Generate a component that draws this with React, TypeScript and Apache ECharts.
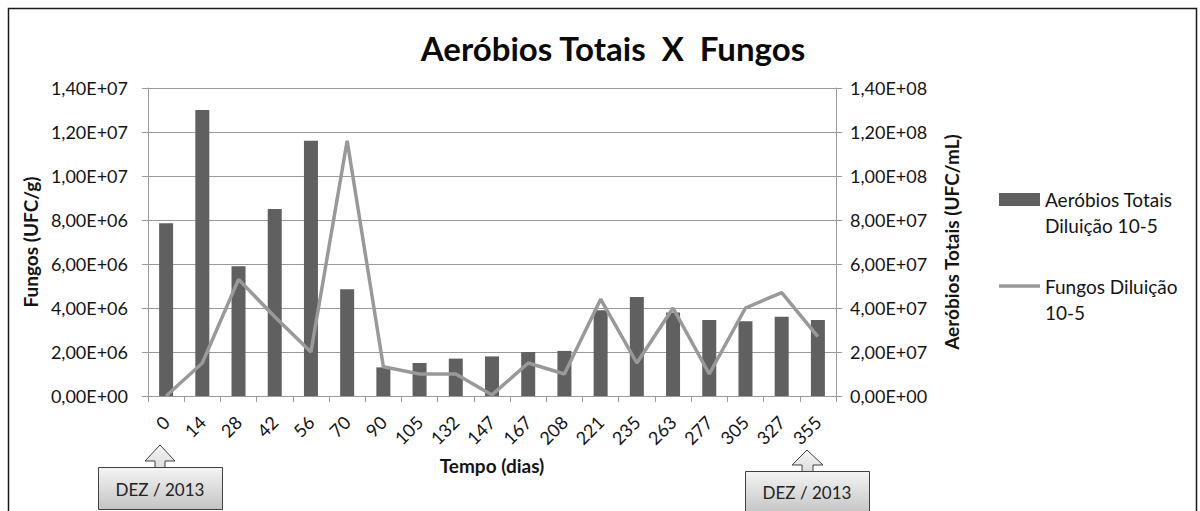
import React, { useEffect, useRef } from "react";
import * as echarts from "echarts";

const days = ["0", "14", "28", "42", "56", "70", "90", "105", "132", "147", "167", "208", "221", "235", "263", "277", "305", "327", "355"];
const aerobios = [7.85e7, 1.3e8, 5.9e7, 8.5e7, 1.16e8, 4.85e7, 1.3e7, 1.5e7, 1.7e7, 1.8e7, 2.0e7, 2.05e7, 3.9e7, 4.5e7, 3.8e7, 3.45e7, 3.4e7, 3.6e7, 3.45e7];
const fungos = [0, 1.5e6, 5.3e6, 3.6e6, 2.0e6, 1.16e7, 1.33e6, 1.0e6, 1.0e6, 0.05e6, 1.5e6, 1.0e6, 4.4e6, 1.5e6, 4.0e6, 1.0e6, 4.0e6, 4.7e6, 2.7e6];
const seriesNames = ["Aeróbios Totais Diluição 10-5", "Fungos Diluição 10-5"];
const legendLines = [["Aeróbios Totais", "Diluição 10-5"], ["Fungos Diluição", "10-5"]];
const titleText = "Aeróbios Totais  X  Fungos";
const calloutText = "DEZ / 2013";

const FONT = "Lato";
const TXT = "#141414";

function sci(v: number): string {
  const [m, e] = v.toExponential(2).split("e");
  const sign = e[0] === "-" ? "-" : "+";
  const digits = e.replace(/[+-]/, "").padStart(2, "0");
  return m.replace(".", ",") + "E" + sign + digits;
}

const boxFill = new echarts.graphic.LinearGradient(0, 0, 0, 1, [
  { offset: 0, color: "#f4f4f4" },
  { offset: 1, color: "#c4c4c4" },
]);
const arrowFill = new echarts.graphic.LinearGradient(0, 0, 0, 1, [
  { offset: 0, color: "#f6f6f6" },
  { offset: 1, color: "#dcdcdc" },
]);

export default function App() {
  const ref = useRef<HTMLDivElement>(null);
  useEffect(() => {
    if (!ref.current) return;
    const chart = echarts.init(ref.current, undefined, { renderer: "svg" });
    const gridLine = { lineStyle: { color: "#9a9a9a", width: 1 } };
    chart.setOption({
      animation: false,
      backgroundColor: "#ffffff",
      textStyle: { fontFamily: FONT },
      title: {
        text: titleText,
        left: 608,
        top: 26,
        textAlign: "center",
        textStyle: { fontFamily: FONT, fontSize: 33, fontWeight: "bold", color: "#0a0a0a" },
      },
      grid: { left: 148, right: 364, top: 88, bottom: 115, containLabel: false },
      xAxis: {
        type: "category",
        data: days,
        boundaryGap: true,
        name: "Tempo (dias)",
        nameLocation: "middle",
        nameGap: 60,
        nameTextStyle: { fontFamily: FONT, fontSize: 19, fontWeight: "bold", color: TXT },
        axisLine: { lineStyle: { color: "#9a9a9a", width: 1 } },
        axisTick: { show: true, length: 6, lineStyle: { color: "#9a9a9a" } },
        axisLabel: { rotate: 45, fontFamily: FONT, fontSize: 18, color: TXT, margin: 23, interval: 0 },
        splitLine: { show: false },
      },
      yAxis: [
        {
          type: "value",
          min: 0,
          max: 1.4e7,
          interval: 2e6,
          position: "left",
          name: "Fungos (UFC/g)",
          nameLocation: "middle",
          nameRotate: 90,
          nameGap: 106,
          nameTextStyle: { fontFamily: FONT, fontSize: 19, fontWeight: "bold", color: TXT },
          axisLine: { show: true, lineStyle: { color: "#9a9a9a" } },
          axisTick: { show: true, length: 6, lineStyle: { color: "#9a9a9a" } },
          axisLabel: { formatter: sci, fontFamily: FONT, fontSize: 18, color: TXT, margin: 20 },
          splitLine: { show: true, ...gridLine },
        },
        {
          type: "value",
          min: 0,
          max: 1.4e8,
          interval: 2e7,
          position: "right",
          name: "Aeróbios Totais (UFC/mL)",
          nameLocation: "middle",
          nameRotate: 90,
          nameGap: 106,
          nameTextStyle: { fontFamily: FONT, fontSize: 19, fontWeight: "bold", color: TXT },
          axisLine: { show: true, lineStyle: { color: "#9a9a9a" } },
          axisTick: { show: true, length: 6, lineStyle: { color: "#9a9a9a" } },
          axisLabel: { formatter: sci, fontFamily: FONT, fontSize: 18, color: TXT, margin: 14 },
          splitLine: { show: false },
        },
      ],
      series: [
        {
          name: seriesNames[0],
          type: "bar",
          yAxisIndex: 1,
          data: aerobios,
          barWidth: 14,
          itemStyle: { color: "#606060" },
          z: 2,
        },
        {
          name: seriesNames[1],
          type: "line",
          yAxisIndex: 0,
          data: fungos,
          symbol: "none",
          lineStyle: { color: "#999999", width: 3.5 },
          itemStyle: { color: "#999999" },
          z: 3,
        },
      ],
      graphic: [
        {
          type: "rect",
          shape: { x: 8.5, y: 8.5, width: 1188, height: 520 },
          style: { fill: "none", stroke: "#1a1a1a", lineWidth: 1.5 },
          silent: true,
          z: -1,
        },
        // legend
        { type: "rect", shape: { x: 999, y: 193, width: 41, height: 13 }, style: { fill: "#606060" } },
        { type: "text", x: 1045, y: 199, style: { text: legendLines[0][0], font: `19px ${FONT}`, fill: TXT, verticalAlign: "middle" } },
        { type: "text", x: 1045, y: 225, style: { text: legendLines[0][1], font: `19px ${FONT}`, fill: TXT, verticalAlign: "middle" } },
        { type: "line", shape: { x1: 999, y1: 286, x2: 1040, y2: 286 }, style: { stroke: "#999999", lineWidth: 3.5 } },
        { type: "text", x: 1045, y: 286, style: { text: legendLines[1][0], font: `19px ${FONT}`, fill: TXT, verticalAlign: "middle" } },
        { type: "text", x: 1045, y: 312, style: { text: legendLines[1][1], font: `19px ${FONT}`, fill: TXT, verticalAlign: "middle" } },
        // callout 1
        {
          type: "polygon",
          shape: { points: [[160, 445], [175, 461], [165, 461], [165, 468], [155, 468], [155, 461], [145, 461]] },
          style: { fill: arrowFill, stroke: "#404040", lineWidth: 1 },
        },
        { type: "rect", shape: { x: 98.5, y: 467.5, width: 124, height: 42 }, style: { fill: boxFill, stroke: "#404040", lineWidth: 1 } },
        { type: "text", x: 160, y: 489, style: { text: calloutText, font: `17px ${FONT}`, fill: "#222222", align: "center", verticalAlign: "middle" } },
        // callout 2
        {
          type: "polygon",
          shape: { points: [[807, 450], [823, 465], [813, 465], [813, 472], [802, 472], [802, 465], [792, 465]] },
          style: { fill: arrowFill, stroke: "#404040", lineWidth: 1 },
        },
        { type: "rect", shape: { x: 745.5, y: 471.5, width: 124, height: 42 }, style: { fill: boxFill, stroke: "#404040", lineWidth: 1 } },
        { type: "text", x: 807, y: 492, style: { text: calloutText, font: `17px ${FONT}`, fill: "#222222", align: "center", verticalAlign: "middle" } },
      ],
    });
    return () => chart.dispose();
  }, []);
  return <div ref={ref} style={{ position: "fixed", left: 0, top: 0, width: 1200, height: 511 }} />;
}
